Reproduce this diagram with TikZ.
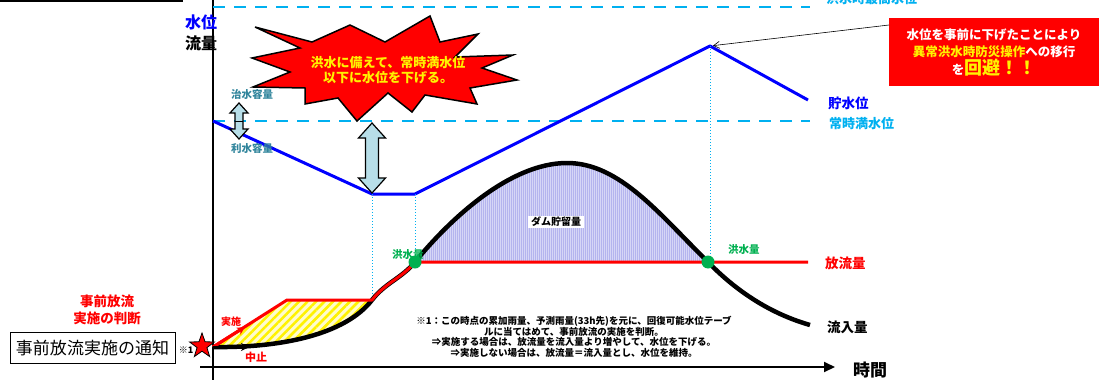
\documentclass[tikz,border=0pt]{standalone}
\usepackage{fontspec}
\setmainfont{Noto Sans CJK JP}
\usepackage{xcolor}
\usepackage{tikz}
\usetikzlibrary{arrows.meta,shapes.geometric,patterns.meta}

\definecolor{levelcyan}{RGB}{0,176,240}
\definecolor{capteal}{RGB}{49,133,156}
\definecolor{capfill}{RGB}{183,222,232}
\definecolor{floodgreen}{RGB}{0,176,80}
\definecolor{storefill}{RGB}{180,180,238}
\newcommand{\fsz}[1]{\fontsize{#1}{#1}\selectfont}

\begin{document}
\begin{tikzpicture}[x=1pt,y=-1pt,>=Stealth,
    lbl/.style={inner sep=0pt,anchor=west,font=\bfseries},
    levdash/.style={levelcyan,line width=2.5pt,dash pattern=on 12pt off 9pt},
    vdot/.style={levelcyan,line width=1pt,dotted},
    inflow/.style={black,line width=4.5pt},
    outflow/.style={red,line width=3pt},
    volarrow/.style={draw=black,line width=1.2pt,fill=capfill,line join=miter},
    flooddot/.style={circle,fill=floodgreen,inner sep=0pt,minimum size=13pt}]

    \useasboundingbox (0,0) rectangle (1099,380);

    % Axes
    \coordinate (ytop) at (213,0);
    \coordinate (ybot) at (213,380);
    \coordinate (xleft) at (200,367);
    \coordinate (xright) at (835,367);
    \draw[line width=2pt] (0,0.5) -- (183,0.5);
    \draw[line width=2.5pt] (ytop) -- (ybot);
    \draw[line width=2pt,-{Triangle[length=11pt,width=10pt]}] (xleft) -- (xright);
    \node [lbl,font=\bfseries\fsz{16}] at (185,22) (wlv) {\color{blue}水位};
    \node [lbl,font=\bfseries\fsz{16}] at (185,43) (flw) {流量};
    \node [lbl,font=\bfseries\fsz{17}] at (853,370) (time) {時間};

    % Reference levels
    \coordinate (hwl0) at (213,7);
    \coordinate (hwl1) at (810,7);
    \coordinate (nwl0) at (213,121);
    \coordinate (nwl1) at (810,121);
    \draw[levdash] (hwl0) -- (hwl1);
    \draw[levdash] (nwl0) -- (nwl1);
    \node [lbl,font=\bfseries\fsz{13},levelcyan] at (826,-1) (hwl) {洪水時最高水位};
    \node [lbl,font=\bfseries\fsz{13},levelcyan] at (829,124) (nwl) {常時満水位};

    % Reservoir level
    \coordinate (wlmin1) at (372,194);
    \coordinate (wlmin2) at (415,194);
    \coordinate (wlpeak) at (710,46);
    \coordinate (wlend) at (808,100);
    \draw[blue,line width=3pt,line join=round] (nwl0) -- (wlmin1) -- (wlmin2) -- (wlpeak) -- (wlend);
    \node [lbl,font=\bfseries\fsz{13.5},blue] at (828,103) (wl) {貯水位};

    % Guide lines
    \coordinate (g1) at (372,300);
    \coordinate (g2) at (415,262);
    \coordinate (g3) at (710,262);
    \draw[vdot] (wlmin1) -- (g1);
    \draw[vdot] (wlmin2) -- (g2);
    \draw[vdot] (wlpeak) -- (g3);

    % Storage and pre-release areas
    \fill[storefill] (415,262) .. controls (450,219) and (510,163) .. (567,163)
        .. controls (620,163) and (660,215) .. (708,262) -- cycle;
    \fill[pattern={Lines[angle=90,distance=2pt,line width=0.5pt]},pattern color=white!45!storefill]
        (415,262) .. controls (450,219) and (510,163) .. (567,163)
        .. controls (620,163) and (660,215) .. (708,262) -- cycle;
    \fill[yellow!20] (213,347) -- (287,300) -- (372,300) .. controls (345,335) and (280,348) .. (213,347);
    \fill[pattern={Lines[angle=45,distance=6pt,line width=2.6pt]},pattern color=yellow!90!orange]
        (213,347) -- (287,300) -- (372,300) .. controls (345,335) and (280,348) .. (213,347);

    % Inflow and outflow
    \draw[inflow] (213,347) .. controls (280,348) and (345,335) .. (372,300)
        .. controls (385,283) and (402,278) .. (415,262)
        .. controls (450,219) and (510,163) .. (567,163)
        .. controls (620,163) and (660,215) .. (708,262)
        .. controls (740,295) and (775,315) .. (810,325);
    \draw[outflow,line join=round] (213,347) -- (287,300) -- (372,300)
        .. controls (385,283) and (402,278) .. (415,262) -- (808,262);
    \draw[outflow,-{Stealth[length=8pt,width=8pt]}] (213,347) -- (245,327);
    \draw[black,line width=3pt,-{Stealth[length=8pt,width=8pt]}] (213,347) -- (249,347);
    \node [lbl,font=\bfseries\fsz{13.5},red] at (825,263) (out) {放流量};
    \node [lbl,font=\bfseries\fsz{13.5}] at (827,327) (in) {流入量};
    \node [lbl,font=\bfseries\fsz{10},red] at (221,322) (go) {実施};
    \node [lbl,font=\bfseries\fsz{11},red] at (245,357) (stop) {中止};

    % Flood discharge points
    \node [flooddot] at (415,262) (fq1) {};
    \node [flooddot] at (708,262) (fq2) {};
    \node [lbl,font=\bfseries\fsz{10.5},floodgreen] at (392,255) (fq1l) {洪水量};
    \node [lbl,font=\bfseries\fsz{10.5},floodgreen] at (728,250) (fq2l) {洪水量};
    \node [fill=white,inner xsep=3pt,inner ysep=1pt,font=\bfseries\fsz{10}] at (556,222) (store) {ダム貯留量};

    % Capacity arrows
    \draw[volarrow] (239,103) -- (248,113) -- (243,113) -- (243,129) -- (248,129) -- (239,139)
        -- (230,129) -- (235,129) -- (235,113) -- (230,113) -- cycle;
    \draw[line width=1pt] (235,121) -- (243,121);
    \draw[volarrow] (372,123) -- (385.5,138) -- (378.5,138) -- (378.5,178) -- (385.5,178) -- (372,193)
        -- (358.5,178) -- (365.5,178) -- (365.5,138) -- (358.5,138) -- cycle;
    \node [lbl,font=\bfseries\fsz{10.5},capteal] at (231,95) (fcap) {治水容量};
    \node [lbl,font=\bfseries\fsz{10.5},capteal] at (231,149) (ucap) {利水容量};

    % Burst
    \draw[line width=1.5pt,fill=red,line join=miter] (255,27) -- (312,42) -- (350,25) -- (385,42)
        -- (430,16) -- (440,42) -- (478,34) -- (455,57) -- (513,55) -- (482,68) -- (517,80)
        -- (470,88) -- (477,104) -- (425,95) -- (412,112) -- (388,93) -- (357,121) -- (338,98)
        -- (305,104) -- (305,88) -- (253,87) -- (290,72) -- (252,58) -- (300,48) -- cycle;
    \node [align=center,inner sep=0pt,yellow,font=\bfseries\fontsize{13}{15}\selectfont] at (388,70) (warn)
        {洪水に備えて、常時満水位\\以下に水位を下げる。};

    % Result box
    \node [fill=red,minimum width=210pt,minimum height=68pt,inner sep=0pt,align=center,
        font=\bfseries\fontsize{12.5}{17}\selectfont] at (994,52) (avoid)
        {\color{white}水位を事前に下げたことにより\\
         {\color{yellow}異常洪水時防災操作}{\color{white}への移行}\\[1pt]
         {\color{white}を}{\color{yellow}\fsz{18}回避！！}};
    \coordinate (boxtip) at (889,25);
    \draw[-{Straight Barb[length=6pt,width=7pt]},line width=0.6pt,shorten >=3pt] (boxtip) -- (wlpeak);

    % Pre-release decision
    \node [draw,line width=1pt,minimum width=165pt,minimum height=31pt,inner sep=0pt,
        font=\fsz{17}] at (92.5,348) (notice) {事前放流実施の通知};
    \node [star,star points=5,star point ratio=2.5,fill=red,draw=black,line width=0.8pt,
        minimum size=26pt,inner sep=0pt] at (202,346) (alert) {};
    \node [inner sep=0pt,font=\bfseries\fsz{9}] at (186,350) (ref) {※1};
    \node [align=center,inner sep=0pt,red,font=\bfseries\fontsize{13.5}{17}\selectfont] at (107,310) (judge)
        {事前放流\\実施の判断};
    \node [align=center,inner sep=0pt,font=\bfseries\fontsize{9.5}{10.6}\selectfont] at (574,337) (note)
        {※1：この時点の累加雨量、予測雨量(33h先)を元に、回復可能水位テーブ\\
         ルに当てはめて、事前放流の実施を判断。\\
         ⇒実施する場合は、放流量を流入量より増やして、水位を下げる。\\
         ⇒実施しない場合は、放流量＝流入量とし、水位を維持。};

\end{tikzpicture}
\end{document}
